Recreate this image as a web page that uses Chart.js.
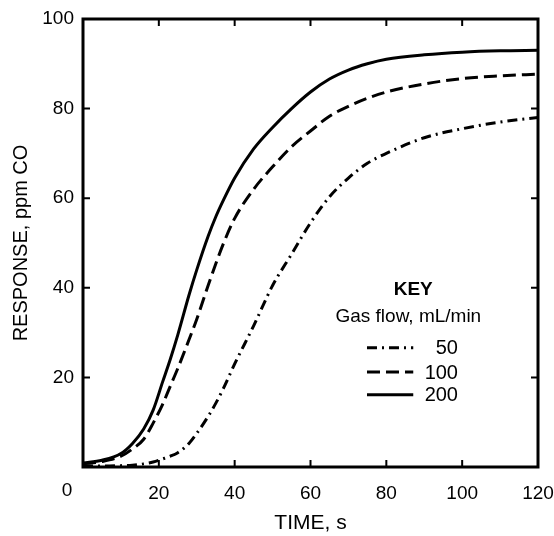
<!DOCTYPE html>
<html>
<head>
<meta charset="utf-8">
<script src="https://cdn.jsdelivr.net/npm/chart.js@4.4.1/dist/chart.umd.min.js"></script>
<style>
html,body{margin:0;padding:0;background:#fff;}
#wrap{width:554px;height:536px;position:relative;}
</style>
</head>
<body>
<div id="wrap"><canvas id="c" width="554" height="536"></canvas></div>
<script>
// ---- data ----
const timeS   = [0, 5, 10, 13, 16, 18.5, 21, 23, 25, 28, 30, 33, 35, 37, 40, 45, 50, 55, 60, 65, 70, 75, 80, 90, 100, 110, 120];
const flow200 = [0.9, 1.5, 3, 5.2, 8.5, 12.7, 19, 24, 29.5, 38.5, 44, 51.5, 55.8, 59.5, 64.5, 71, 75.8, 80, 83.7, 86.6, 88.6, 90, 91, 92, 92.6, 92.9, 93];
const flow100 = [0.7, 1.2, 2.4, 4, 6.2, 9.8, 14, 18, 22, 28.5, 33, 40.5, 45.3, 49.8, 55.5, 62, 67, 71.5, 75, 78.3, 80.5, 82.3, 83.7, 85.5, 86.7, 87.3, 87.7];
const flow50  = [0.2, 0.2, 0.3, 0.4, 0.7, 1.1, 1.8, 2.4, 3.2, 5.3, 7.5, 11.3, 14.2, 17.5, 23, 31.5, 40.5, 47.5, 54.5, 60.3, 64.5, 67.8, 70, 73.5, 75.5, 77, 78];
const seriesLabels = ['50', '100', '200'];
const xTicks = [0, 20, 40, 60, 80, 100, 120];
const yTicks = [20, 40, 60, 80, 100];
const legendTitle = 'KEY';
const legendSubtitle = 'Gas flow, mL/min';
const xTitle = 'TIME, s';
const yTitle = 'RESPONSE, ppm CO';

const FONT = '"Liberation Sans", Arial, sans-serif';

function pts(ys){ return timeS.map((t,i)=>({x:t,y:ys[i]})); }

const framePlugin = {
  id:'frame',
  afterDatasetsDraw(chart){
    const ctx = chart.ctx, a = chart.chartArea;
    const xs = chart.scales.x, ys = chart.scales.y;
    ctx.save();
    ctx.strokeStyle = '#000';
    ctx.lineWidth = 3;
    ctx.setLineDash([]);
    ctx.strokeRect(a.left, a.top, a.right - a.left, a.bottom - a.top);
    ctx.lineWidth = 2;
    const L = 7;
    ctx.beginPath();
    xTicks.forEach(v=>{
      if (v===0 || v===120) return;
      const px = xs.getPixelForValue(v);
      ctx.moveTo(px, a.bottom); ctx.lineTo(px, a.bottom - L);
      ctx.moveTo(px, a.top); ctx.lineTo(px, a.top + L);
    });
    yTicks.forEach(v=>{
      if (v===100) return;
      const py = ys.getPixelForValue(v);
      ctx.moveTo(a.left, py); ctx.lineTo(a.left + L, py);
      ctx.moveTo(a.right, py); ctx.lineTo(a.right - L, py);
    });
    ctx.stroke();
    // "0" x label offset to the left of origin
    ctx.fillStyle = '#000';
    ctx.font = '19px ' + FONT;
    ctx.textAlign = 'center';
    ctx.textBaseline = 'middle';
    ctx.fillText('0', xs.getPixelForValue(0) - 16, a.bottom + 24);
    // legend
    ctx.font = 'bold 19px ' + FONT;
    ctx.fillText(legendTitle, xs.getPixelForValue(87.1), ys.getPixelForValue(39.5));
    ctx.font = '19px ' + FONT;
    ctx.fillText(legendSubtitle, xs.getPixelForValue(85.8), ys.getPixelForValue(33.5));
    const rowsY = [26.6, 21.2, 16.1];
    [0,1,2].forEach((di,k)=>{
      const ds = chart.data.datasets[di];
      const py = ys.getPixelForValue(rowsY[k]);
      const x0 = xs.getPixelForValue(74.9), x1 = xs.getPixelForValue(87.1);
      ctx.save();
      ctx.lineWidth = 3;
      ctx.setLineDash(ds.borderDash || []);
      ctx.beginPath(); ctx.moveTo(x0, py); ctx.lineTo(x1, py); ctx.stroke();
      ctx.restore();
      ctx.textAlign = 'right';
      ctx.font = '20px ' + FONT;
      ctx.fillText(ds.label, xs.getPixelForValue(98.9), py + 1);
    });
    ctx.restore();
  }
};

new Chart(document.getElementById('c'), {
  type:'line',
  data:{
    datasets:[
      {label:seriesLabels[0], data:pts(flow50), borderColor:'#000', borderWidth:3, borderDash:[10,5,2,5], pointRadius:0, cubicInterpolationMode:'monotone', fill:false},
      {label:seriesLabels[1], data:pts(flow100), borderColor:'#000', borderWidth:3, borderDash:[13,6], pointRadius:0, cubicInterpolationMode:'monotone', fill:false},
      {label:seriesLabels[2], data:pts(flow200), borderColor:'#000', borderWidth:3, pointRadius:0, cubicInterpolationMode:'monotone', fill:false}
    ]
  },
  options:{
    responsive:false,
    animation:false,
    layout:{padding:{top:19, right:0, left:0, bottom:0}},
    plugins:{legend:{display:false}, tooltip:{enabled:false}},
    scales:{
      x:{
        type:'linear', min:0, max:120,
        afterBuildTicks(s){ s.ticks = xTicks.map(v=>({value:v})); },
        afterFit(s){ s.height = 69; s.paddingRight = 16; s.paddingLeft = 0; },
        grid:{display:false, drawTicks:false},
        border:{display:false},
        ticks:{color:'#000', font:{family:FONT, size:19}, padding:15, maxRotation:0,
          callback:(v)=> v===0 ? '' : String(v)},
        title:{display:true, text:xTitle, color:'#000', font:{family:FONT, size:21}, padding:{top:4, bottom:0}}
      },
      y:{
        type:'linear', min:0, max:100,
        afterBuildTicks(s){ s.ticks = yTicks.map(v=>({value:v})); },
        afterFit(s){ s.width = 83; s.paddingTop = 0; s.paddingBottom = 0; },
        grid:{display:false, drawTicks:false},
        border:{display:false},
        ticks:{color:'#000', font:{family:FONT, size:19}, padding:9},
        title:{display:true, text:yTitle, color:'#000', font:{family:FONT, size:20}, padding:{top:9, bottom:0}}
      }
    }
  },
  plugins:[framePlugin]
});
</script>
</body>
</html>
